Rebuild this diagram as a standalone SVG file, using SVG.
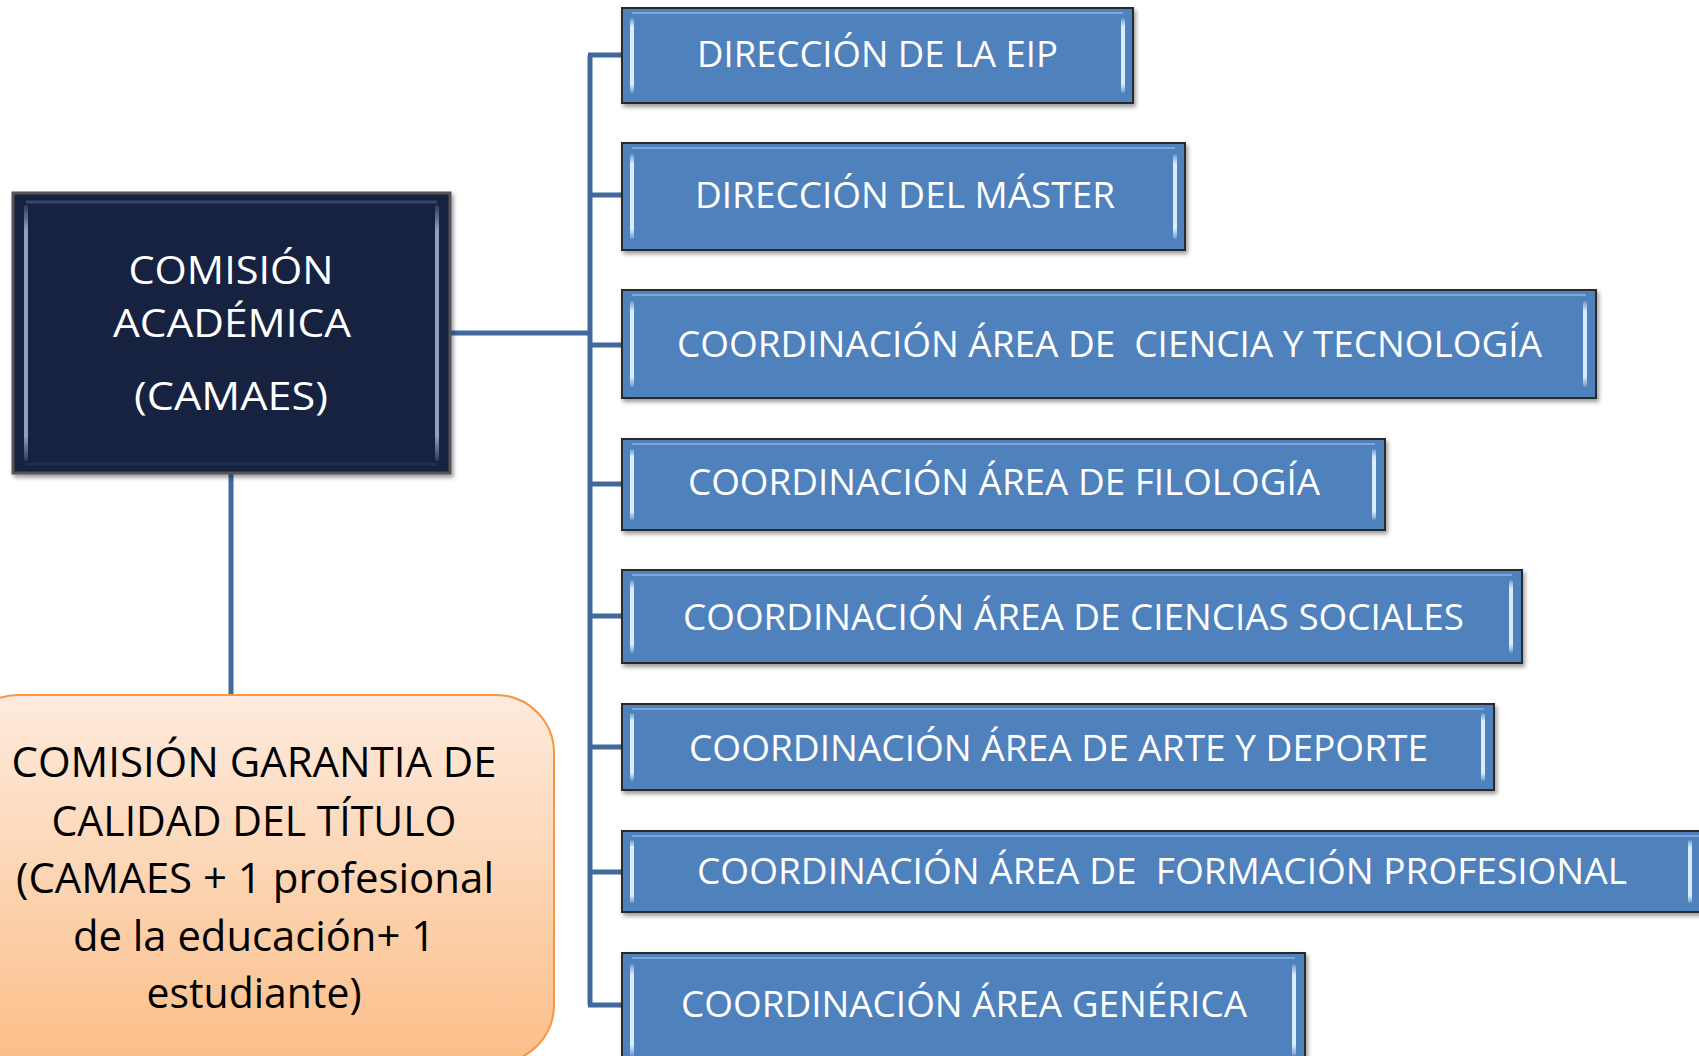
<svg xmlns="http://www.w3.org/2000/svg" width="1699" height="1056" viewBox="0 0 1699 1056">
<defs>
<filter id="sh" x="-5%" y="-10%" width="115%" height="130%"><feDropShadow dx="2" dy="3" stdDeviation="2" flood-color="#000" flood-opacity="0.4"/></filter>
<linearGradient id="hl" x1="0" y1="0" x2="0" y2="1">
<stop offset="0" stop-color="#DDF0FF" stop-opacity="0.2"/>
<stop offset="0.12" stop-color="#D8EEFF"/>
<stop offset="0.88" stop-color="#D8EEFF"/>
<stop offset="1" stop-color="#DDF0FF" stop-opacity="0.2"/>
</linearGradient>
<linearGradient id="hld" x1="0" y1="0" x2="0" y2="1">
<stop offset="0" stop-color="#8EA2C0" stop-opacity="0.2"/>
<stop offset="0.1" stop-color="#8EA2C0"/>
<stop offset="0.9" stop-color="#8EA2C0"/>
<stop offset="1" stop-color="#8EA2C0" stop-opacity="0.2"/>
</linearGradient>
<linearGradient id="org" x1="0" y1="0" x2="0" y2="1">
<stop offset="0" stop-color="#FEEBDD"/>
<stop offset="1" stop-color="#FBBE88"/>
</linearGradient>
</defs>
<style>
.bx{fill:#4F81BD;stroke:#2A2A2A;stroke-width:2;filter:url(#sh)}
.hl{fill:url(#hl)}
.tp{fill:none;stroke:#7FA6D6;stroke-width:2}
.bt{font-family:"Open Sans","Noto Sans",sans-serif;font-size:36px;fill:#FFFFFF;white-space:pre}
.dt{font-family:"Open Sans","Noto Sans",sans-serif;font-size:39px;fill:#FFFFFF;text-anchor:middle}
.ot{font-family:"Open Sans","Noto Sans",sans-serif;font-size:42px;fill:#000000;text-anchor:middle}
.cn{fill:none;stroke:#41699D;stroke-width:5}
</style>

<g id="connectors">
<path class="cn" d="M590,55 V1005"/>
<path class="cn" d="M588,55 H622 M588,195 H622 M588,345 H622 M588,484 H622 M588,616 H622 M588,747 H622 M588,872 H622 M588,1005 H622"/>
<path class="cn" d="M450,333 H590" stroke-width="6"/>
<path class="cn" d="M231,473 V695"/>
</g>

<g id="comision-academica">
<rect x="13" y="193" width="437" height="280" fill="#13233F" stroke="#555555" stroke-width="3" filter="url(#sh)"/>
<rect x="24" y="205" width="4" height="256" rx="2" fill="url(#hld)"/>
<rect x="435" y="205" width="4" height="256" rx="2" fill="url(#hld)"/>
<path d="M26,202 H437" stroke="#33476A" stroke-width="3"/>
<path d="M26,464 H437" stroke="#1E3050" stroke-width="3"/>
<text class="dt" x="231" y="284" textLength="205" lengthAdjust="spacingAndGlyphs">COMISIÓN</text>
<text class="dt" x="232" y="337" textLength="238" lengthAdjust="spacingAndGlyphs">ACADÉMICA</text>
<text class="dt" x="231" y="410" textLength="194" lengthAdjust="spacingAndGlyphs">(CAMAES)</text>
</g>

<g id="comision-garantia">
<rect x="-40" y="695" width="594" height="368" rx="58" fill="url(#org)" stroke="#F79646" stroke-width="2"/>
<text class="ot" x="254" y="777" textLength="485" lengthAdjust="spacingAndGlyphs">COMISIÓN GARANTIA DE</text>
<text class="ot" x="254" y="836" textLength="405" lengthAdjust="spacingAndGlyphs">CALIDAD DEL TÍTULO</text>
<text class="ot" x="255" y="893" textLength="478" lengthAdjust="spacingAndGlyphs">(CAMAES + 1 profesional</text>
<text class="ot" x="254" y="951" textLength="362" lengthAdjust="spacingAndGlyphs">de la educación+ 1</text>
<text class="ot" x="254" y="1008" textLength="215" lengthAdjust="spacingAndGlyphs">estudiante)</text>
</g>

<g id="direccion-eip">
<rect class="bx" x="622" y="8" width="511" height="95"/>
<path class="tp" d="M632,13 H1123"/>
<rect class="hl" x="630" y="18" width="4" height="75" rx="2"/>
<rect class="hl" x="1121" y="18" width="4" height="75" rx="2"/>
<text class="bt" x="697" y="67" textLength="361" lengthAdjust="spacingAndGlyphs">DIRECCIÓN DE LA EIP</text>
</g>

<g id="direccion-master">
<rect class="bx" x="622" y="143" width="563" height="107"/>
<path class="tp" d="M632,148 H1175"/>
<rect class="hl" x="630" y="154" width="4" height="85" rx="2"/>
<rect class="hl" x="1173" y="154" width="4" height="85" rx="2"/>
<text class="bt" x="695" y="208" textLength="420" lengthAdjust="spacingAndGlyphs">DIRECCIÓN DEL MÁSTER</text>
</g>

<g id="coord-ciencia-tecnologia">
<rect class="bx" x="622" y="290" width="974" height="108"/>
<path class="tp" d="M632,295 H1586"/>
<rect class="hl" x="630" y="301" width="4" height="86" rx="2"/>
<rect class="hl" x="1583" y="301" width="4" height="86" rx="2"/>
<text class="bt" x="677" y="357" textLength="865" lengthAdjust="spacingAndGlyphs" xml:space="preserve">COORDINACIÓN ÁREA DE  CIENCIA Y TECNOLOGÍA</text>
</g>

<g id="coord-filologia">
<rect class="bx" x="622" y="439" width="763" height="91"/>
<path class="tp" d="M632,444 H1375"/>
<rect class="hl" x="630" y="449" width="4" height="71" rx="2"/>
<rect class="hl" x="1372" y="449" width="4" height="71" rx="2"/>
<text class="bt" x="688" y="495" textLength="632" lengthAdjust="spacingAndGlyphs">COORDINACIÓN ÁREA DE FILOLOGÍA</text>
</g>

<g id="coord-ciencias-sociales">
<rect class="bx" x="622" y="570" width="900" height="93"/>
<path class="tp" d="M632,575 H1512"/>
<rect class="hl" x="630" y="580" width="4" height="73" rx="2"/>
<rect class="hl" x="1509" y="580" width="4" height="73" rx="2"/>
<text class="bt" x="683" y="630" textLength="781" lengthAdjust="spacingAndGlyphs">COORDINACIÓN ÁREA DE CIENCIAS SOCIALES</text>
</g>

<g id="coord-arte-deporte">
<rect class="bx" x="622" y="704" width="872" height="86"/>
<path class="tp" d="M632,709 H1484"/>
<rect class="hl" x="630" y="713" width="4" height="68" rx="2"/>
<rect class="hl" x="1481" y="713" width="4" height="68" rx="2"/>
<text class="bt" x="689" y="761" textLength="739" lengthAdjust="spacingAndGlyphs">COORDINACIÓN ÁREA DE ARTE Y DEPORTE</text>
</g>

<g id="coord-formacion-profesional">
<rect class="bx" x="622" y="831" width="1090" height="81"/>
<path class="tp" d="M632,836 H1699"/>
<rect class="hl" x="630" y="840" width="4" height="63" rx="2"/>
<rect class="hl" x="1688" y="840" width="4" height="63" rx="2"/>
<text class="bt" x="697" y="884" textLength="930" lengthAdjust="spacingAndGlyphs" xml:space="preserve">COORDINACIÓN ÁREA DE  FORMACIÓN PROFESIONAL</text>
</g>

<g id="coord-generica">
<rect class="bx" x="622" y="953" width="683" height="115"/>
<path class="tp" d="M632,958 H1295"/>
<rect class="hl" x="630" y="964" width="4" height="92" rx="2"/>
<rect class="hl" x="1292" y="964" width="4" height="92" rx="2"/>
<text class="bt" x="681" y="1017" textLength="566" lengthAdjust="spacingAndGlyphs">COORDINACIÓN ÁREA GENÉRICA</text>
</g>
</svg>
